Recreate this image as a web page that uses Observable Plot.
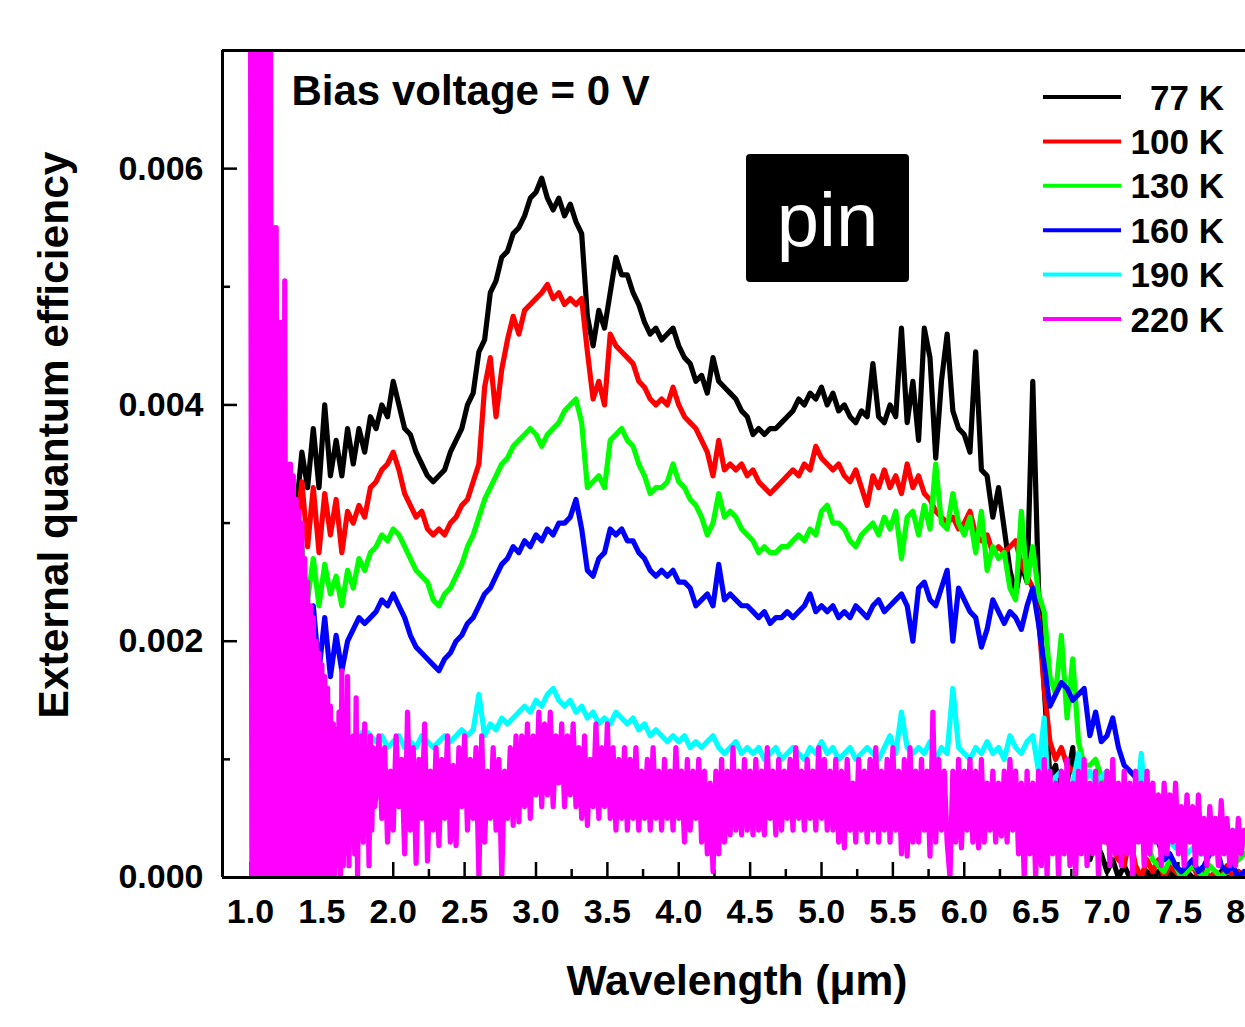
<!DOCTYPE html>
<html><head><meta charset="utf-8">
<script src="https://cdn.jsdelivr.net/npm/d3@7"></script>
<script src="https://cdn.jsdelivr.net/npm/@observablehq/plot@0.6"></script>
<style>
html,body{margin:0;padding:0;background:#fff;overflow:hidden;}
#chart svg{display:block;max-width:none;}
</style></head><body><div id="chart"></div>
<script>
// ---------- data ----------
const seriesNames = ["77 K", "100 K", "130 K", "160 K", "190 K", "220 K"];
const seriesColors = ["#000000", "#ff0000", "#00ff00", "#0000ff", "#00ffff", "#ff00ff"];

// main wavelength grid (µm): 1.32 … 7.96, step 0.04
const gridStart = 1.32, gridStep = 0.04, gridCount = 167;
// fine grid for the strongly oscillating 220 K onset: 1.00 … 1.87, step 0.01
const fineStart = 1.00, fineStep = 0.01, fineCount = 88;
// 220 K grid after the onset: 1.88 … 7.96, step 0.02
const midStart = 1.88, midStep = 0.02, midCount = 305;

const k77 = [
0.0031,0.0036,0.0033,0.0038,0.0033,0.0040,0.0034,0.0037,0.0034,0.0038,
0.0035,0.0038,0.0036,0.0039,0.0038,0.0040,0.0039,0.0042,0.0040,0.0038,
0.00375,0.0036,0.0035,0.0034,0.00335,0.0034,0.00345,0.0036,0.0037,0.0038,
0.0040,0.0041,0.00445,0.00455,0.00495,0.00505,0.00525,0.0053,0.00545,0.0055,
0.0056,0.00575,0.0058,0.00592,0.00575,0.00565,0.00575,0.0056,0.0057,0.00555,
0.00545,0.00475,0.0045,0.0048,0.00465,0.00495,0.00525,0.0051,0.0051,0.00495,
0.00485,0.0047,0.0046,0.00465,0.00455,0.0046,0.00465,0.0045,0.0044,0.00435,
0.0042,0.00425,0.0041,0.0044,0.0042,0.00415,0.0041,0.00405,0.00395,0.0039,
0.00375,0.0038,0.00375,0.0038,0.0038,0.00385,0.0039,0.00395,0.00405,0.0040,
0.0041,0.00405,0.00415,0.0040,0.0041,0.00395,0.0040,0.0039,0.00385,0.00395,
0.0039,0.00435,0.0039,0.00385,0.0040,0.0039,0.00465,0.00385,0.0042,0.0037,
0.00465,0.0044,0.00355,0.0042,0.0046,0.00395,0.0038,0.00375,0.0036,0.00445,
0.00345,0.0034,0.00305,0.0033,0.00295,0.0026,0.0024,0.00265,0.0025,0.0042,
0.00245,0.0016,0.00085,0.00095,0.0006,0.0008,0.0011,0.0004,0.00045,0.00015,
0.0003,0.0002,0.00005,0.00015,0,0.0001,0,0.00005,0,0.00005,
0,0.00005,0,0.00005,0,0,0.00005,0,0,0.00005,
0,0,0.00005,0,0,0.00005,0
];
const k100 = [
0.0029,0.00335,0.0028,0.0033,0.00275,0.00325,0.0029,0.0032,0.00275,0.0031,
0.0030,0.00315,0.00305,0.0033,0.00335,0.00345,0.0035,0.0036,0.00345,0.00325,
0.00315,0.00305,0.0031,0.00295,0.0029,0.00295,0.0029,0.0030,0.00305,0.00315,
0.0032,0.00335,0.0035,0.00415,0.0044,0.0039,0.0043,0.00455,0.00475,0.0046,
0.0048,0.00485,0.0049,0.00495,0.00502,0.0049,0.00495,0.00485,0.0049,0.00485,
0.0049,0.00445,0.00405,0.0042,0.0040,0.0046,0.0045,0.00445,0.0044,0.00435,
0.0042,0.00415,0.00405,0.0040,0.00405,0.0040,0.00415,0.0040,0.0039,0.00385,
0.0038,0.0037,0.0036,0.0034,0.0037,0.00345,0.0035,0.00345,0.0035,0.0034,
0.00345,0.00335,0.0033,0.00325,0.0033,0.00335,0.0034,0.00345,0.0034,0.0035,
0.00345,0.00365,0.00355,0.0035,0.00345,0.0035,0.0034,0.00335,0.00345,0.0033,
0.00315,0.0034,0.0033,0.00345,0.0033,0.0034,0.00325,0.0035,0.0033,0.0034,
0.00325,0.0032,0.0031,0.00305,0.0030,0.00305,0.00295,0.0030,0.0031,0.0029,
0.00285,0.0029,0.00275,0.0028,0.00275,0.0028,0.00285,0.00265,0.00255,0.00245,
0.0022,0.0016,0.00115,0.0010,0.0011,0.00095,0.0009,0.0008,0.00065,0.0005,
0.00045,0.00035,0.0003,0.00025,0.00015,0.0001,0.00035,0.0001,0,0.00015,
0.00005,0.00015,0,0.0001,0.00005,0,0.00005,0.0001,0,0.00005,
0,0.00005,0,0.0001,0,0.00005,0
];
const k130 = [
null,0.0028,0.00235,0.0027,0.0023,0.00265,0.0024,0.00255,0.0023,0.0026,
0.00245,0.0027,0.0026,0.00275,0.0028,0.0029,0.00285,0.00295,0.0029,0.0028,
0.0027,0.0026,0.00255,0.0025,0.00235,0.0023,0.0024,0.00245,0.00255,0.00265,
0.0028,0.0029,0.00305,0.0032,0.0033,0.0034,0.0035,0.00355,0.00365,0.0037,
0.00375,0.0038,0.00375,0.00365,0.00375,0.0038,0.00385,0.00395,0.0040,0.00405,
0.00385,0.0033,0.00335,0.0034,0.0033,0.0037,0.00375,0.0038,0.0037,0.00365,
0.0035,0.0034,0.00325,0.0033,0.0033,0.00335,0.0035,0.00335,0.0033,0.0032,
0.00315,0.00305,0.0029,0.0030,0.00325,0.00305,0.0031,0.00305,0.00295,0.0029,
0.00285,0.00275,0.0028,0.00275,0.00275,0.0028,0.0028,0.00285,0.0029,0.00285,
0.00295,0.0029,0.0031,0.00315,0.0030,0.0030,0.00295,0.00285,0.0028,0.0029,
0.00295,0.0030,0.0029,0.00305,0.00295,0.0031,0.0027,0.00305,0.0031,0.0029,
0.00315,0.00295,0.0035,0.0030,0.00295,0.00325,0.0030,0.0029,0.00305,0.00275,
0.0031,0.0026,0.0028,0.0027,0.00275,0.00245,0.00235,0.0031,0.0025,0.0028,
0.0024,0.00225,0.0017,0.00155,0.00205,0.00135,0.00185,0.00115,0.00095,0.00095,
0.0010,0.00085,0.00075,0.0007,0.0006,0.0005,0.00045,0.0003,0.00035,0.0003,
0.00015,0.0001,0.00005,0.00015,0.0001,0,0.00005,0.0001,0.00005,0,
0.0001,0.00005,0,0.00005,0.0001,0.00015,0.0002
];
const k160 = [
null,0.00235,0.0020,0.0023,0.00175,0.0022,0.0017,0.00205,0.00175,0.0020,
0.0021,0.0022,0.00215,0.0022,0.00225,0.00235,0.0023,0.0024,0.0023,0.0022,
0.00205,0.00195,0.0019,0.00185,0.0018,0.00175,0.00185,0.0019,0.0020,0.00205,
0.00215,0.0022,0.0023,0.0024,0.00245,0.00255,0.00265,0.0027,0.0028,0.00275,
0.00285,0.0028,0.0029,0.00285,0.00295,0.0029,0.0030,0.0030,0.00305,0.0032,
0.00295,0.0026,0.00255,0.0027,0.00275,0.00295,0.0029,0.00295,0.00285,0.00285,
0.00275,0.0027,0.0026,0.00255,0.0026,0.00255,0.0026,0.0025,0.0025,0.00245,
0.0023,0.00235,0.0024,0.0023,0.00265,0.00235,0.0024,0.00235,0.0023,0.0023,
0.00225,0.0022,0.00225,0.00215,0.0022,0.0022,0.00225,0.0022,0.00225,0.0023,
0.0024,0.00225,0.0023,0.00225,0.0023,0.0022,0.00225,0.0022,0.0023,0.00225,
0.0022,0.0023,0.00235,0.00225,0.0023,0.00235,0.0024,0.0023,0.0020,0.00245,
0.0025,0.00235,0.0023,0.00245,0.0026,0.0020,0.00245,0.00235,0.00225,0.0022,
0.00195,0.0021,0.00235,0.00225,0.00215,0.00225,0.0022,0.0021,0.0023,0.00245,
0.00215,0.0018,0.00145,0.00155,0.00165,0.0016,0.0015,0.00155,0.0016,0.0012,
0.0014,0.00115,0.0012,0.00135,0.0011,0.00095,0.0009,0.00085,0.0007,0.0005,
0.00035,0.0003,0.00015,0.0002,0.0001,0.00005,0.0001,0.00015,0.00005,0.0001,
0.0002,0.0003,0.0001,0.00005,0.0001,0,0.00005
];
const k190 = [
null,null,0.0013,0.0012,0.00135,0.00115,0.00125,0.0012,0.0011,0.0012,
0.00115,0.0012,0.00125,0.0012,0.00115,0.0012,0.0011,0.00115,0.0012,0.0011,
0.00115,0.0011,0.0012,0.00115,0.0011,0.00115,0.0012,0.00115,0.0012,0.00125,
0.0012,0.00125,0.00155,0.0012,0.0013,0.00125,0.00135,0.0013,0.00135,0.0014,
0.00145,0.0014,0.0015,0.00145,0.00155,0.0016,0.0015,0.00145,0.0015,0.0014,
0.00145,0.00135,0.0014,0.0013,0.00135,0.0013,0.0014,0.00135,0.0013,0.00135,
0.00125,0.0013,0.0012,0.00125,0.0012,0.00115,0.0012,0.00115,0.0012,0.0011,
0.00115,0.0011,0.00115,0.0012,0.0011,0.00105,0.0011,0.00115,0.00105,0.0011,
0.00105,0.0011,0.0010,0.00105,0.0011,0.0010,0.00105,0.0011,0.00105,0.0010,
0.0011,0.00105,0.00115,0.00105,0.0011,0.0010,0.00105,0.0011,0.0010,0.00105,
0.0011,0.00105,0.0010,0.0011,0.0012,0.00105,0.0014,0.0011,0.00105,0.0011,
0.00105,0.00115,0.0010,0.0011,0.00105,0.0016,0.0011,0.00105,0.0010,0.0011,
0.00105,0.00115,0.00105,0.0011,0.0010,0.0012,0.0011,0.00105,0.00115,0.0012,
0.0009,0.00135,0.00045,0.00085,0.0009,0.00075,0.0008,0.00105,0.0008,0.0009,
0.0008,0.00085,0.0009,0.0007,0.00065,0.0007,0.00055,0.0005,0.00105,0.00045,
0.0004,0.00035,0.0003,0.0003,0.00025,0.0003,0.0002,0.00025,0.0002,0.0002,
0.0003,0.00025,0.0002,0.00035,0.0004,0.0003,0.00035
];
// 220 K on the fine grid (1.00–1.87 µm)
const k220fine = [
0.0075,0,0.0075,0,0.0075,0,0.0075,0,0.0075,0,
0.0075,0,0.0075,0,0.0075,0,0.0055,0,0.0055,0,
0.0047,0,0.0047,0,0.00505,0,0.0035,0,0.0035,0,
0.0034,0,0.0032,0,0.0031,0,0.0030,0,0.0027,0,
0.0025,0,0.0023,0,0.0022,0,0.0020,0,0.0019,0,
0.0018,0,0.0017,0,0.0016,0,0.00145,0,0.0013,0,
0.00125,0.0001,0.0014,0,0.00175,0.0001,0.0012,0.0002,0.0017,0.0001,
0.0011,0.0003,0.0012,0.0002,0.00152,0,0.0011,0.0004,0.0012,0.0003,
0.0013,0.0005,0.0011,0.0001,0.0012,0.0004,0.0011,0.0006
];
// 220 K on the 0.02 µm grid (1.88–7.96 µm)
const k220 = [
0.0007,0.0012,0.0005,0.0011,0.0003,0.0009,0.0004,0.0012,0.0006,0.0010,
0.0002,0.0014,0.0004,0.0011,0.00012,0.0010,0.0005,0.0013,0.00014,0.0009,
0.0004,0.0011,0.00027,0.0010,0.0005,0.0012,0.0003,0.00095,0.00027,0.0011,
0.0006,0.0012,0.0004,0.0010,0.0005,0.0011,0,0.0012,0.0003,0.0009,
0.0005,0.0011,0.0004,0.0010,0,0.0009,0.0005,0.0011,0.00044,0.0012,
0.00047,0.0012,0.0006,0.0013,0.0005,0.0012,0.0007,0.0014,0.0006,0.0013,
0.0007,0.0014,0.0006,0.0012,0.0008,0.0013,0.0006,0.0012,0.0007,0.0013,
0.0006,0.0011,0.0005,0.0012,0.00044,0.0010,0.0006,0.0013,0.0005,0.0011,
0.0006,0.0013,0.0005,0.0011,0.0004,0.0010,0.0005,0.0011,0.0004,0.0010,
0.0005,0.0011,0.0004,0.0009,0.0005,0.0010,0.0004,0.0011,0.0005,0.0009,
0.0004,0.0010,0.0005,0.0009,0.0004,0.0011,0.0005,0.0009,0.0003,0.0010,
0.0004,0.0009,0.0005,0.0010,0.0003,0.0009,0.0002,0.0008,0.00005,0.0009,
0.0002,0.0010,0.0003,0.0009,0.00036,0.0011,0.0004,0.0009,0.00036,0.0010,
0.0004,0.0009,0.00036,0.0010,0.0004,0.0009,0.00036,0.0011,0.0005,0.0009,
0.00036,0.0010,0.0004,0.0009,0.0005,0.0010,0.0004,0.0011,0.0005,0.0009,
0.0004,0.0010,0.0005,0.0009,0.0004,0.0011,0.0005,0.0010,0.0004,0.0009,
0.0004,0.0010,0.0003,0.0009,0.00025,0.0010,0.0004,0.0008,0.0003,0.0010,
0.0004,0.0009,0.0003,0.0010,0.0004,0.0011,0.0003,0.0009,0.0004,0.0010,
0.0003,0.0011,0.0004,0.0009,0.0002,0.0010,0.00018,0.0011,0.0003,0.0009,
0.0003,0.0010,0.0004,0.0009,0.00018,0.0014,0.0003,0.0010,0.0004,0.0009,
0.0003,0,0.0009,0.0003,0.0010,0.00025,0.0009,0.0004,0.0010,0.0003,
0.0009,0.00025,0.0010,0.0003,0.0008,0.0004,0.0009,0.0003,0.0008,0.00035,
0.0009,0.0003,0.0010,0.0004,0.0009,0.0002,0.0008,0,0.0009,0.0002,
0.0008,0,0.0009,0.0001,0.0010,0,0.0009,0.0002,0.0008,0,
0.0009,0.0002,0.0010,0.0001,0.0008,0,0.0009,0.0002,0.0010,0.0001,
0.0008,0.0002,0.0009,0,0.0008,0.0003,0.0009,0.0001,0.0010,0.0002,
0.0008,0.0001,0.0009,0.0002,0.0008,0,0.0009,0.0003,0.0008,0.0001,
0.0009,0.0002,0.0008,0.0003,0.0007,0.0001,0.0008,0.0002,0.0007,0.0003,
0.0008,0.0002,0.0006,0.0001,0.0007,0.0003,0.0006,0.0001,0.0007,0.0002,
0.0005,0.0001,0.0006,0.0002,0.0005,0.0001,0.00065,0.0002,0.0005,0.0001,
0.0004,0.0001,0.0005,0.0002,0.0004
];

// axis ticks
const xMajor = [1.0,1.5,2.0,2.5,3.0,3.5,4.0,4.5,5.0,5.5,6.0,6.5,7.0,7.5,8.0];
const xMinor = [1.25,1.75,2.25,2.75,3.25,3.75,4.25,4.75,5.25,5.75,6.25,6.75,7.25,7.75];
const yMajor = [0, 0.002, 0.004, 0.006];
const yMinor = [0.001, 0.003, 0.005];

// ---------- layout ----------
const W = 1245, H = 1027, mL = 222, mR = 0, mT = 50, mB = 150;
const innerW = W - mL - mR, innerH = H - mT - mB;
const xDomain = [0.804, 7.97], yDomain = [0, 0.007];
const FONT = "'Liberation Sans', Arial, Helvetica, sans-serif";

const mkGrid = (start, step, n) => d3.range(n).map(i => Math.round((start + i * step) * 100) / 100);
const grid = mkGrid(gridStart, gridStep, gridCount);
const fine = mkGrid(fineStart, fineStep, fineCount);
const mid = mkGrid(midStart, midStep, midCount);

const rows = [];
function addSeries(name, xs, ys) {
  ys.forEach((v, i) => { if (v != null) rows.push({series: name, wl: xs[i], eqe: v}); });
}
addSeries("77 K", grid, k77);
addSeries("100 K", grid, k100);
addSeries("130 K", grid, k130);
addSeries("160 K", grid, k160);
addSeries("190 K", grid, k190);
addSeries("220 K", fine, k220fine);
addSeries("220 K", mid, k220);

const fmtX = d3.format(".1f"), fmtY = d3.format(".3f");

// legend + "pin" label (annotations inside the frame)
function annotations() {
  const g = d3.create("svg:g").attr("font-family", FONT);
  const lx1 = W - 202, lx2 = W - 124, tx = W - 21, y0 = 97, step = 44.4;
  seriesNames.forEach((name, i) => {
    const y = y0 + i * step;
    g.append("line").attr("x1", lx1).attr("x2", lx2).attr("y1", y).attr("y2", y)
      .attr("stroke", seriesColors[i]).attr("stroke-width", 4);
    g.append("text").attr("x", tx).attr("y", y).attr("dy", "0.36em")
      .attr("text-anchor", "end").attr("font-size", 35).attr("font-weight", "bold")
      .attr("fill", "#000").text(name);
  });
  const bx = 746, by = 154, bw = 163, bh = 128;
  g.append("rect").attr("x", bx).attr("y", by).attr("width", bw).attr("height", bh)
    .attr("rx", 4).attr("fill", "#000");
  g.append("text").attr("x", bx + bw / 2).attr("y", by + 92).attr("text-anchor", "middle")
    .attr("font-size", 76).attr("fill", "#fff").text("pin");
  return g.node();
}

const chart = Plot.plot({
  width: W, height: H,
  marginLeft: mL, marginRight: mR, marginTop: mT, marginBottom: mB,
  style: {fontFamily: FONT, background: "white", color: "black"},
  x: {domain: xDomain, axis: null},
  y: {domain: yDomain, axis: null},
  color: {domain: seriesNames, range: seriesColors},
  marks: [
    Plot.tickX(xMajor, {x: d => d, insetTop: innerH - 15, strokeWidth: 2.5}),
    Plot.tickX(xMinor, {x: d => d, insetTop: innerH - 8, strokeWidth: 2.5}),
    Plot.tickY(yMajor, {y: d => d, insetRight: innerW - 15, strokeWidth: 2.5}),
    Plot.tickY(yMinor, {y: d => d, insetRight: innerW - 8, strokeWidth: 2.5}),
    Plot.line(rows, {x: "wl", y: "eqe", z: "series", stroke: "series", strokeWidth: 5.2,
      strokeLinejoin: "round", strokeLinecap: "round", clip: true}),
    Plot.ruleX([xDomain[0]], {strokeWidth: 3}),
    Plot.ruleY([yDomain[0]], {strokeWidth: 3}),
    Plot.ruleY([yDomain[1]], {strokeWidth: 3}),
    Plot.text(xMajor, {x: d => d, text: d => fmtX(d), frameAnchor: "bottom", dy: 35,
      lineAnchor: "middle", fontSize: 34, fontWeight: "bold", fill: "black"}),
    Plot.text(yMajor, {y: d => d, text: d => fmtY(d), frameAnchor: "left", dx: -19,
      textAnchor: "end", lineAnchor: "middle", fontSize: 34, fontWeight: "bold", fill: "black"}),
    Plot.text(["External quantum efficiency"], {text: d => d, frameAnchor: "left", rotate: -90,
      dx: -168, dy: -29, textAnchor: "middle", lineAnchor: "middle", fontSize: 42.5,
      fontWeight: "bold", fill: "black"}),
    Plot.text(["Wavelength (μm)"], {text: d => d, frameAnchor: "bottom", dx: 3, dy: 104,
      textAnchor: "middle", lineAnchor: "middle", fontSize: 42.5, fontWeight: "bold", fill: "black"}),
    Plot.text(["Bias voltage = 0 V"], {text: d => d, frameAnchor: "top-left", dx: 69, dy: 25,
      textAnchor: "start", lineAnchor: "top", fontSize: 42, fontWeight: "bold", fill: "black"}),
    annotations
  ]
});
document.getElementById("chart").appendChild(chart);
</script></body></html>
